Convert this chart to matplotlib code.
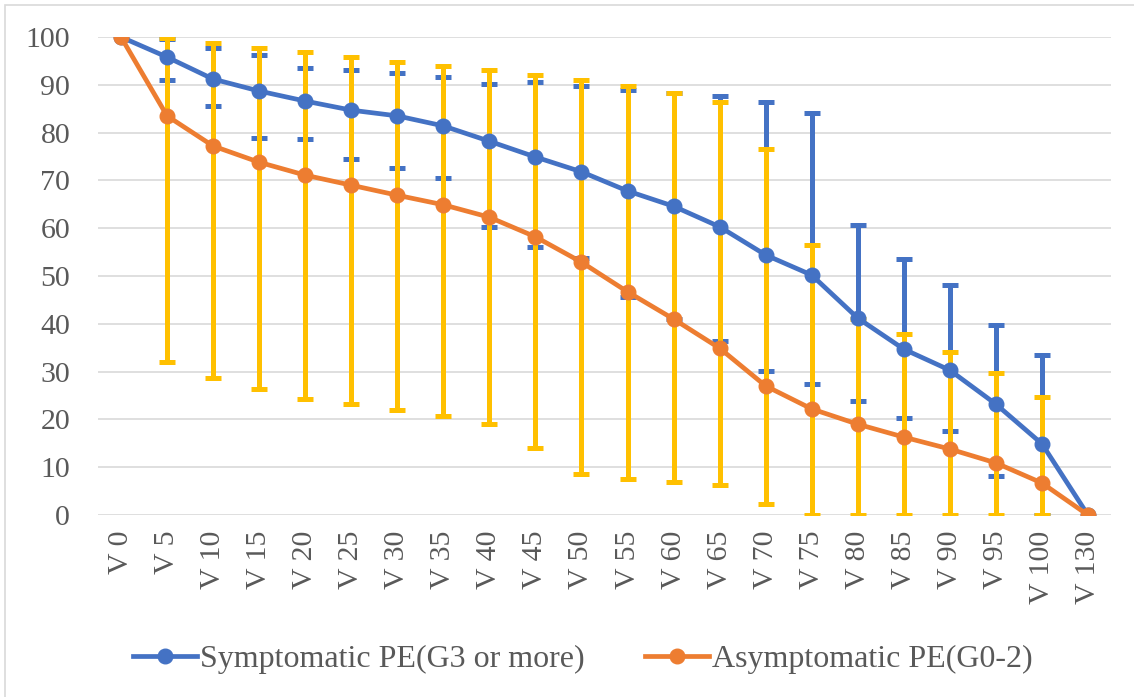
import numpy as np
import matplotlib
matplotlib.use("Agg")
import matplotlib.pyplot as plt
from matplotlib.patches import Rectangle

plt.rcParams['font.family'] = ['Liberation Serif', 'DejaVu Serif']

# categories (dose levels)
labels = ["V 0", "V 5", "V 10", "V 15", "V 20", "V 25", "V 30", "V 35", "V 40",
          "V 45", "V 50", "V 55", "V 60", "V 65", "V 70", "V 75", "V 80",
          "V 85", "V 90", "V 95", "V 100", "V 130"]

# mean values
symptomatic = [100, 95.8, 91.2, 88.7, 86.6, 84.7, 83.5, 81.4, 78.2, 74.9, 71.8,
               67.8, 64.6, 60.3, 54.4, 50.2, 41.2, 34.7, 30.3, 23.2, 14.9, 0]
asymptomatic = [100, 83.5, 77.2, 73.8, 71.1, 69.0, 66.9, 64.9, 62.3, 58.2, 52.9,
                46.7, 41.0, 34.9, 27.0, 22.2, 19.0, 16.3, 13.8, 10.9, 6.7, 0]

# error bar ends, V5 .. V100 (no bars on V0 and V130)
sym_hi = [99.6, 97.6, 96.2, 93.6, 93.0, 92.4, 91.6, 90.1, 90.5, 89.8,
          88.9, 88.3, 87.6, 86.3, 84.0, 60.7, 53.6, 48.1, 39.7, 33.5]
sym_lo = [91.0, 85.6, 78.8, 78.6, 74.5, 72.7, 70.5, 60.3, 56.1, 53.8,
          45.7, 41.0, 36.3, 30.1, 27.4, 23.8, 20.2, 17.6, 8.2, 0]
asym_hi = [99.8, 98.7, 97.6, 96.8, 95.9, 94.8, 94.0, 93.1, 92.1, 91.0,
           89.8, 88.3, 86.5, 76.6, 56.5, 41.0, 37.8, 34.2, 29.8, 24.7]
asym_lo = [32.0, 28.7, 26.4, 24.3, 23.2, 22.0, 20.7, 19.0, 14.0, 8.6,
           7.5, 6.9, 6.3, 2.3, 0, 0, 0, 0, 0, 0]

blue = "#4472C4"
orange = "#ED7D31"
yellow = "#FFC000"
txt = "#595959"

x = np.arange(len(labels))
xe = x[1:-1]
sym = np.array(symptomatic)
asym = np.array(asymptomatic)

fig = plt.figure(figsize=(11.34, 6.97), dpi=100)
ax = fig.add_axes([0.0864, 0.2611, 0.8933, 0.6858])

# error bars first, yellow over blue
ax.errorbar(xe, sym[1:-1], yerr=[sym[1:-1] - np.array(sym_lo), np.array(sym_hi) - sym[1:-1]],
            fmt='none', ecolor=blue, elinewidth=3.6, capsize=6, capthick=3.6, zorder=2)
ax.errorbar(xe, asym[1:-1], yerr=[asym[1:-1] - np.array(asym_lo), np.array(asym_hi) - asym[1:-1]],
            fmt='none', ecolor=yellow, elinewidth=3.6, capsize=6, capthick=3.6, zorder=3)

ax.plot(x, sym, color=blue, lw=3.4, marker='o', ms=10.5, zorder=4,
        label="Symptomatic PE(G3 or more)")
ax.plot(x, asym, color=orange, lw=3.4, marker='o', ms=10.5, zorder=5,
        label="Asymptomatic PE(G0-2)")

ax.set_xlim(-0.5, len(labels) - 0.5)
ax.set_ylim(0, 100)
ax.set_yticks(range(0, 101, 10))
ax.set_xticks(x)
ax.set_xticklabels(labels, rotation=90)
ax.grid(axis='y', color='#D9D9D9', lw=1.2, zorder=0)
ax.set_axisbelow(True)
for s in ax.spines.values():
    s.set_visible(False)
ax.tick_params(axis='both', length=0, labelsize=21.5, labelcolor=txt)
ax.tick_params(axis='y', pad=20)
ax.tick_params(axis='x', pad=11)

fig.legend(loc='center', bbox_to_anchor=(0.514, 0.054), ncol=2, frameon=False,
           fontsize=23, labelcolor=txt, handlelength=2.0, handletextpad=0.1,
           columnspacing=1.9)

fig.patches.append(Rectangle((5 / 1134, -0.1), 1.2, 1.1 - 5 / 697, transform=fig.transFigure,
                             fill=False, edgecolor='#D9D9D9', lw=1.2))

fig.savefig("out.png", dpi=100)
